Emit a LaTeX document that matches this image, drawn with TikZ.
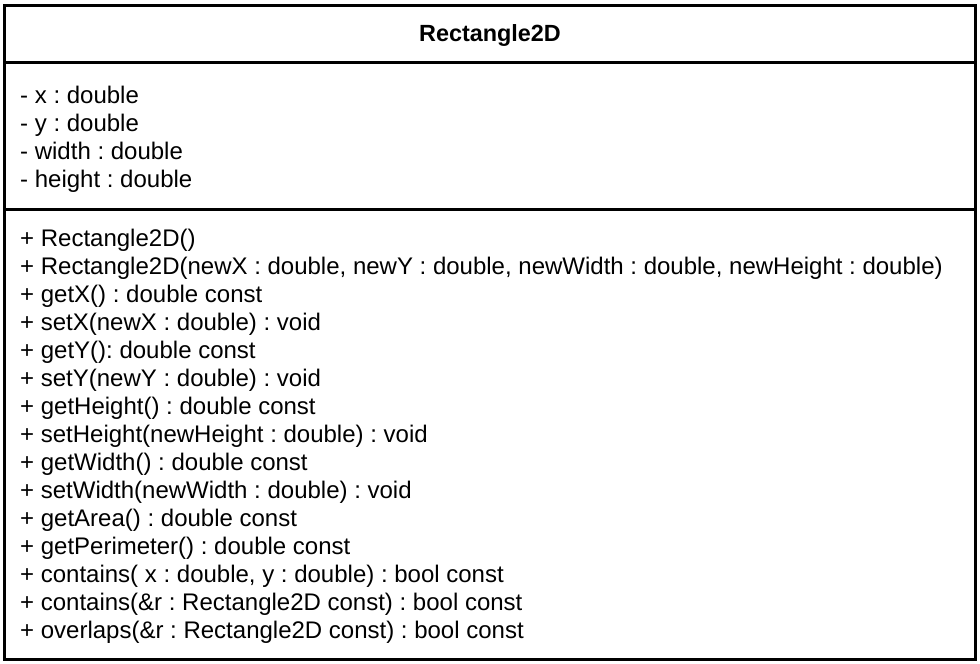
\documentclass[tikz,border=0pt]{standalone}
\usepackage{fontspec}
\setmainfont{Liberation Sans}
\frenchspacing
\begin{document}
\begin{tikzpicture}[x=1pt,y=-1pt,
  frame/.style={draw=black,line width=3pt},
  member/.style={anchor=base west,inner sep=0pt,font=\fontsize{24}{28}\selectfont},
  title/.style={anchor=base,inner sep=0pt,font=\fontsize{23.4}{28}\selectfont\bfseries}]
\useasboundingbox (0,0) rectangle (980,664);
\fill[white] (0,0) rectangle (980,664);
% class box with its three compartments
\draw[frame] (4,5) rectangle (975,659);
\draw[frame] (4,62) -- (975,62);
\draw[frame] (4,209) -- (975,209);
% class name
\node[title] (name) at (490,41) {Rectangle2D};
% attributes
\foreach \t [count=\i from 0] in {
  {- x : double},
  {- y : double},
  {- width : double},
  {- height : double}}
  \node[member] (attr\i) at (20,103.5+28*\i) {\t};
% operations
\foreach \t [count=\i from 0] in {
  {+ Rectangle2D()},
  {+ Rectangle2D(newX : double, newY : double, newWidth : double, newHeight : double)},
  {+ getX() : double const},
  {+ setX(newX : double) : void},
  {+ getY(): double const},
  {+ setY(newY : double) : void},
  {+ getHeight() : double const},
  {+ setHeight(newHeight : double) : void},
  {+ getWidth() : double const},
  {+ setWidth(newWidth : double) : void},
  {+ getArea() : double const},
  {+ getPerimeter() : double const},
  {+ contains( x : double, y : double) : bool const},
  {+ contains(\&r : Rectangle2D const) : bool const},
  {+ overlaps(\&r : Rectangle2D const) : bool const}}
  \node[member] (op\i) at (20,246.5+28*\i) {\t};
\end{tikzpicture}
\end{document}
